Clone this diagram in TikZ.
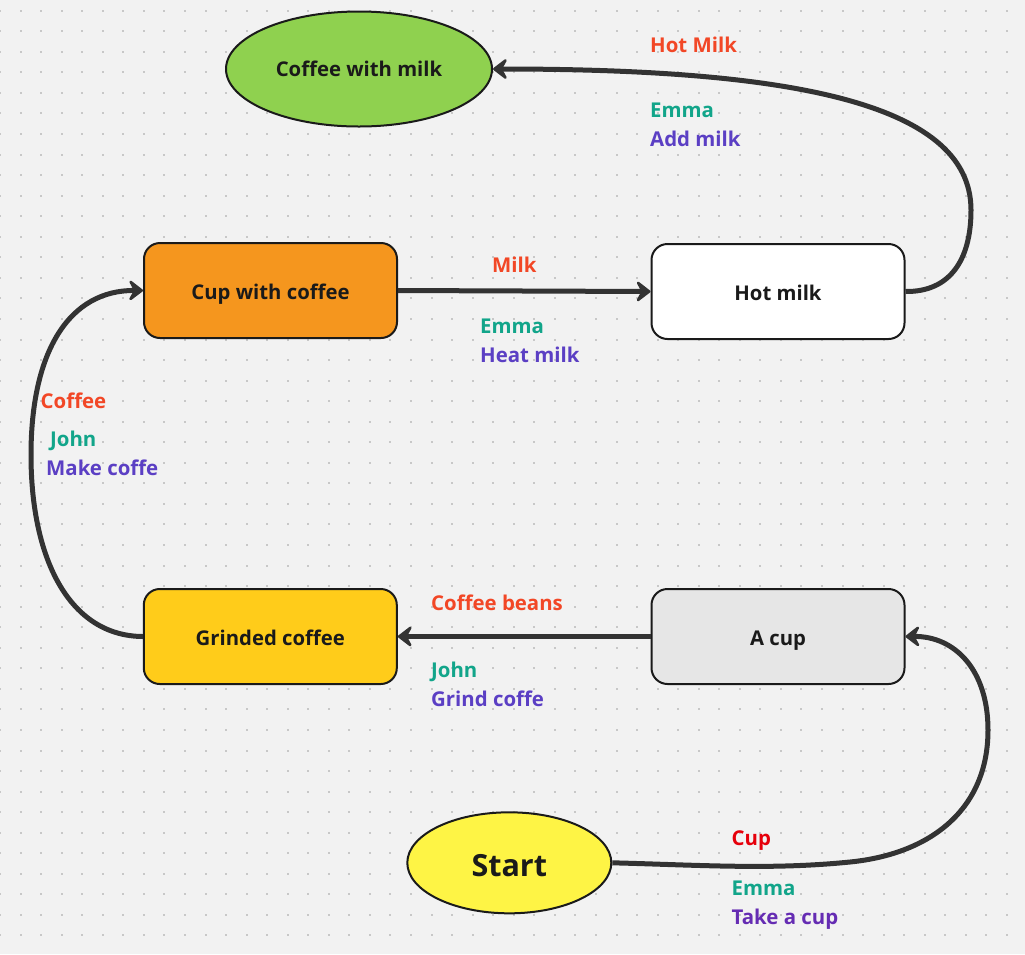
\documentclass[tikz,border=0pt]{standalone}
\usepackage{fontspec}
\setmainfont{Open Sans}
\usetikzlibrary{arrows.meta,shapes.geometric}
\definecolor{bgc}{HTML}{F2F2F2}
\definecolor{dotc}{HTML}{C8C8C8}
\definecolor{linec}{HTML}{333333}
\definecolor{txtc}{HTML}{1A1A1A}
\definecolor{lred}{HTML}{F24726}
\definecolor{lgreen}{HTML}{12A58A}
\definecolor{lpurple}{HTML}{5B3FC4}
\definecolor{cupred}{HTML}{E6000B}
\definecolor{cuppurple}{HTML}{652CB3}
\definecolor{gfill}{HTML}{8FD14F}
\definecolor{ofill}{HTML}{F5961E}
\definecolor{yfill}{HTML}{FFCC1A}
\definecolor{sfill}{HTML}{FEF445}
\definecolor{cfill}{HTML}{E6E6E6}
\tikzset{
  box/.style={draw=txtc, line width=2pt, rounded corners=16pt, minimum width=253pt, minimum height=95pt, inner sep=0pt, text=txtc, text height=17.6pt, text depth=0pt, font=\fontsize{20.3}{24}\selectfont\bfseries},
  oval/.style={draw=txtc, line width=2pt, ellipse, inner sep=0pt, text=txtc, text depth=0pt},
  conn/.style={draw=linec, line width=5pt, -{Stealth[length=17pt,width=26pt,inset=7pt,round]}},
  lbl/.style={anchor=base west, inner sep=0pt, font=\fontsize{20.4}{24}\selectfont\bfseries},
}
\begin{document}
\begin{tikzpicture}[x=1pt,y=-1pt]
\fill[bgc] (0,0) rectangle (1025,954);
\useasboundingbox (0,0) rectangle (1025,954);
\foreach \i in {0,...,49}{
  \foreach \j in {0,...,46}{
    \fill[dotc] ({\i*20.55-1},{10.7+\j*20.55-1}) rectangle ++(2,2);
  }
}
% nodes
\node[oval, fill=gfill, minimum width=266pt, minimum height=115pt, text height=15.4pt, font=\fontsize{20.3}{24}\selectfont\bfseries] (cwm) at (359,69) {Coffee with milk};
\node[box, fill=ofill] (cwc) at (270.5,290.5) {Cup with coffee};
\node[box, fill=white] (hm) at (778,291.5) {Hot milk};
\node[box, fill=yfill] (gc) at (270.3,636.5) {Grinded coffee};
\node[box, fill=cfill] (ac) at (778,636.5) {A cup};
\node[oval, fill=sfill, minimum width=204pt, minimum height=101pt, text height=26.4pt, font=\fontsize{30.5}{36}\selectfont\bfseries] (st) at (509.3,862.8) {Start};
% connectors
\draw[conn] (st.east) .. controls (700,865) and (770,870) .. (850,862)
  .. controls (930,854) and (988,810) .. (988,730)
  .. controls (988,670) and (955,636) .. (ac.east);
\draw[conn] (ac.west) -- (gc.east);
\draw[conn] (gc.west) .. controls (70,636) and (31,560) .. (31,455)
  .. controls (31,350) and (70,290) .. (cwc.west);
\draw[conn] (cwc.east) -- (hm.west);
\draw[conn] (hm.east) .. controls (950,292) and (971,260) .. (971,210)
  .. controls (971,100) and (780,69) .. (cwm.east);
% labels
\node[lbl, text=lred] (l1a) at (650,52.7) {Hot Milk};
\node[lbl, text=lgreen] (l1b) at (650,117.3) {Emma};
\node[lbl, text=lpurple] (l1c) at (650,146.3) {Add milk};
\node[lbl, text=lred] (l2a) at (492,272.3) {Milk};
\node[lbl, text=lgreen] (l2b) at (480,333.3) {Emma};
\node[lbl, text=lpurple] (l2c) at (480,362.3) {Heat milk};
\node[lbl, text=lred] (l3a) at (40.5,408.3) {Coffee};
\node[lbl, text=lgreen] (l3b) at (50,446) {John};
\node[lbl, text=lpurple] (l3c) at (46,475) {Make coffe};
\node[lbl, text=lred] (l4a) at (431,610.7) {Coffee beans};
\node[lbl, text=lgreen] (l4b) at (431,677.5) {John};
\node[lbl, text=lpurple] (l4c) at (431,706.5) {Grind coffe};
\node[lbl, text=cupred] (l5a) at (731.5,845) {Cup};
\node[lbl, text=lgreen] (l5b) at (731.5,895.5) {Emma};
\node[lbl, text=cuppurple] (l5c) at (731.5,924) {Take a cup};
\end{tikzpicture}
\end{document}
